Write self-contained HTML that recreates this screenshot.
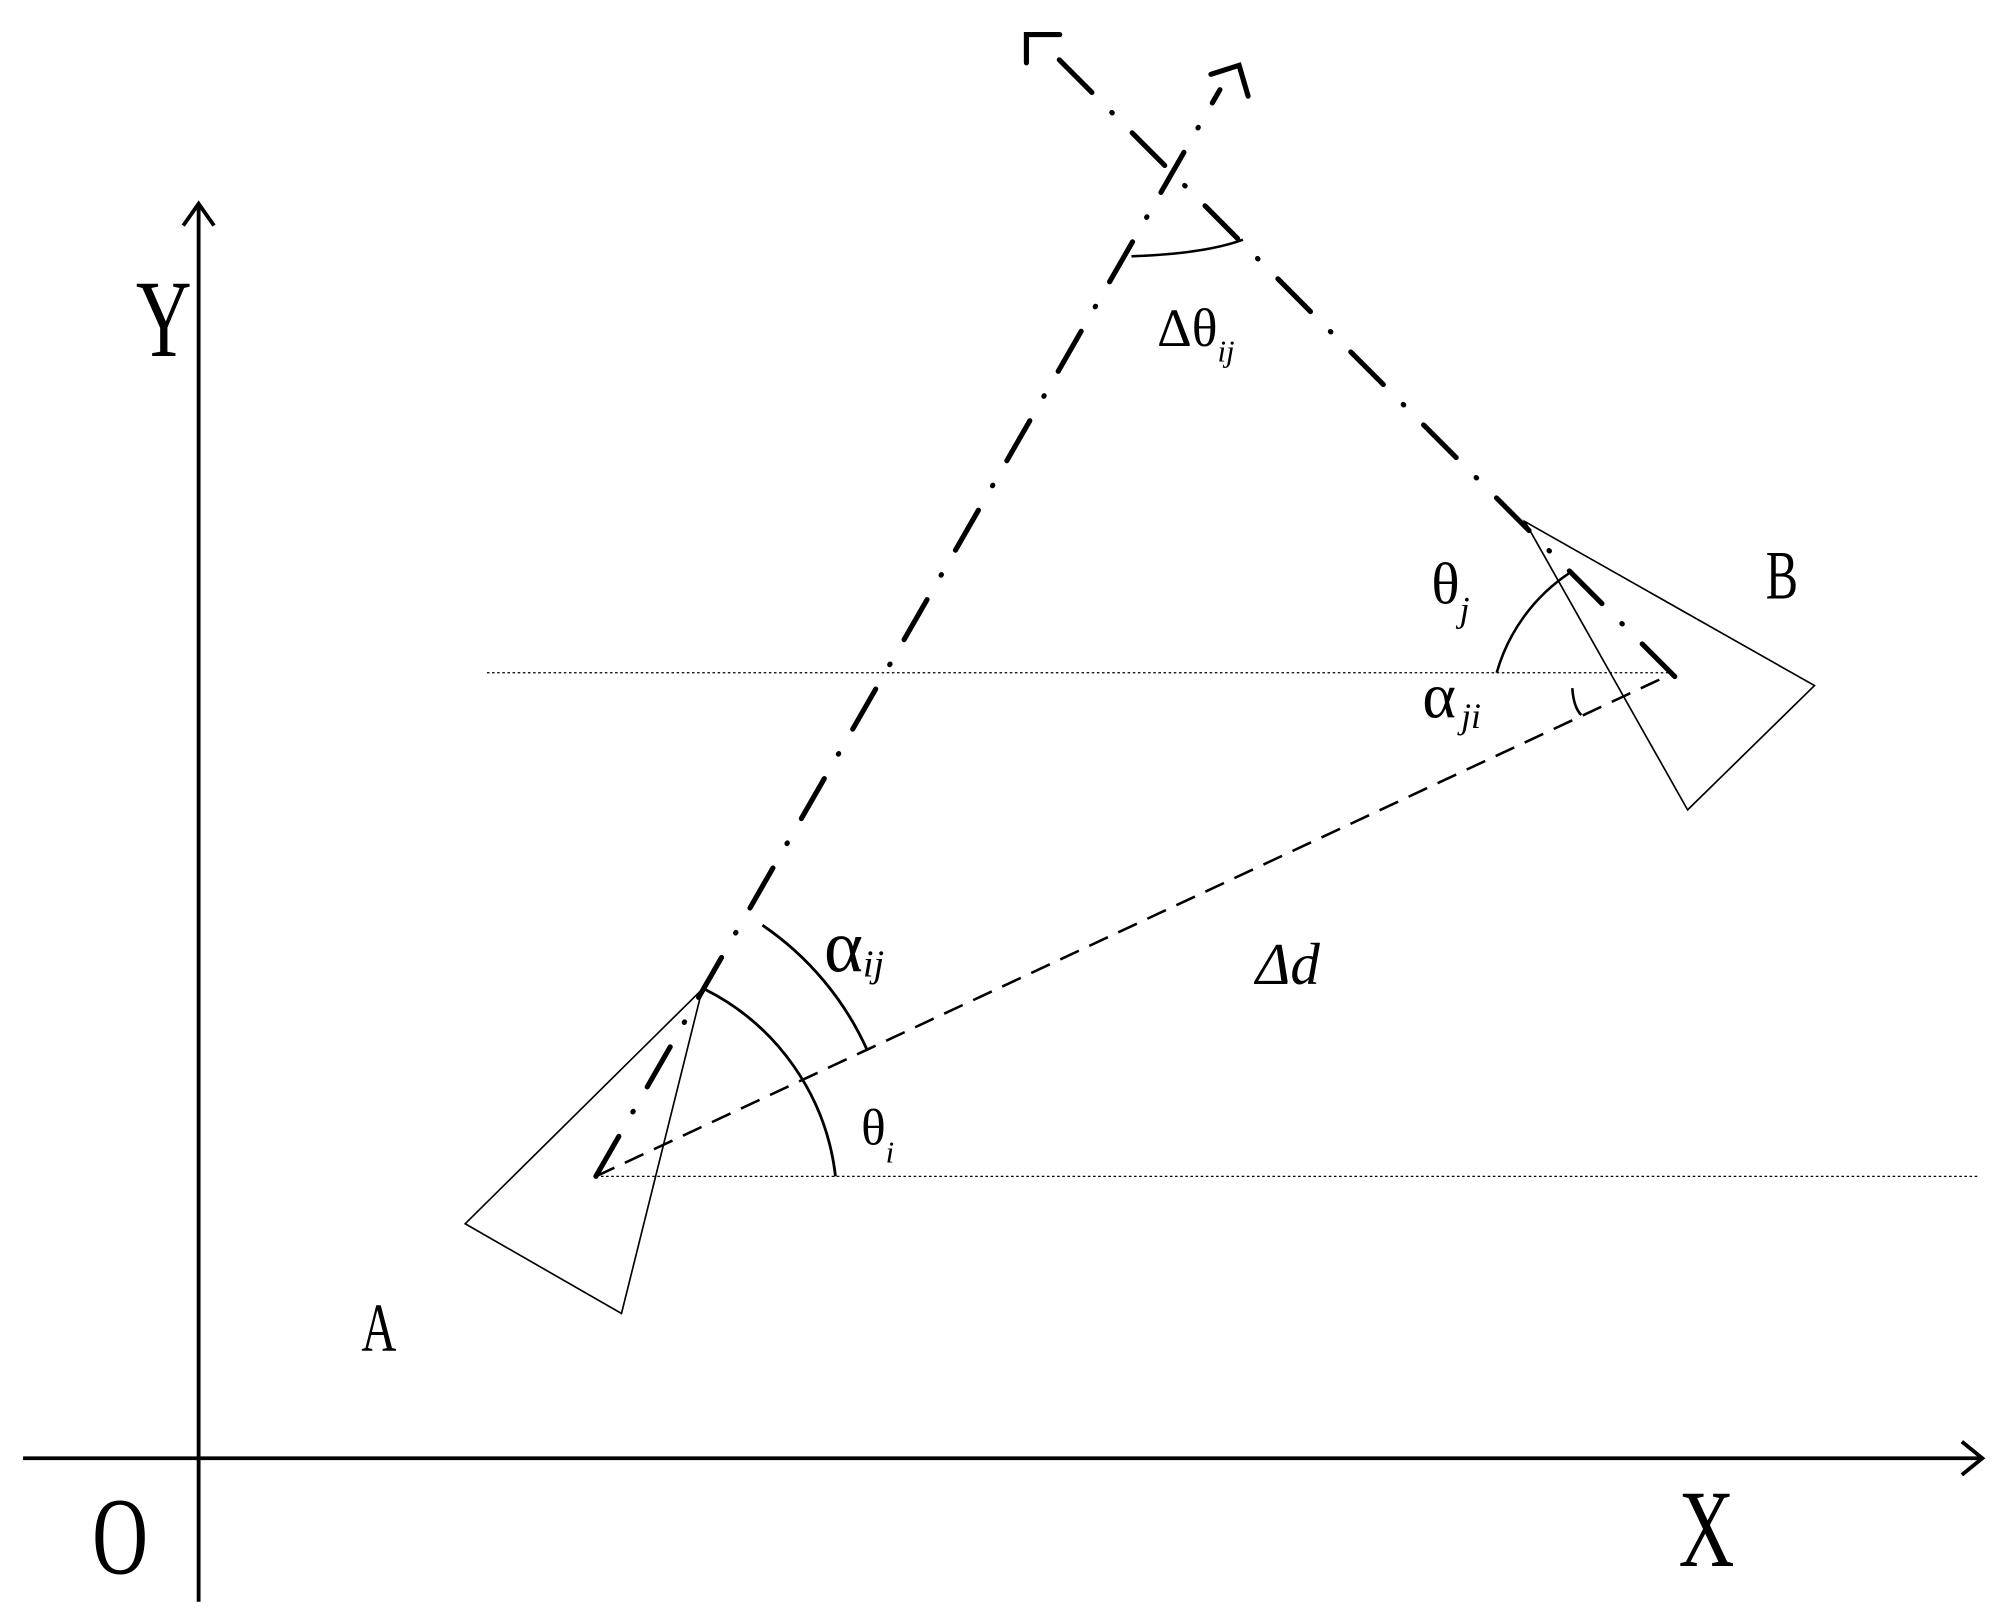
<!DOCTYPE html>
<html><head><meta charset="utf-8"><style>html,body{margin:0;padding:0;background:#fff}svg{display:block}</style></head>
<body>
<svg width="1999" height="1610" viewBox="0 0 1560 1256.4" xmlns="http://www.w3.org/2000/svg" font-family="Liberation Serif, serif">
<g stroke="#000" fill="none">
<line x1="155" y1="1250" x2="155" y2="159" stroke-width="3"/>
<polyline points="143,176 155,159 167,176" stroke-width="3"/>
<line x1="18" y1="1138" x2="1547" y2="1138" stroke-width="3"/>
<polyline points="1531,1125 1547,1138 1531,1151" stroke-width="3"/>
<line x1="380" y1="525" x2="1305" y2="525" stroke-width="1" stroke-dasharray="2,2"/>
<line x1="465" y1="918" x2="1545" y2="918" stroke-width="1" stroke-dasharray="2,2"/>
<polygon points="363,955 485,1025 548,772" stroke-width="1.3"/>
<polygon points="1190,407 1416,535 1317,632" stroke-width="1.3"/>
<line x1="465" y1="918" x2="1300" y2="528" stroke-width="2" stroke-dasharray="16,9"/>
<line x1="465" y1="918" x2="952" y2="70" stroke-width="4" stroke-linecap="round" stroke-dasharray="36,22,0.5,22"/>
<line x1="1307" y1="528" x2="825" y2="45" stroke-width="4" stroke-linecap="round" stroke-dasharray="36,22,0.5,22"/>
<polyline points="801,49 801,27 827,27" stroke-width="4" stroke-linecap="round"/>
<polyline points="945,58 967,51 974,75" stroke-width="4" stroke-linecap="round"/>
<path d="M652,918 A187,187 0 0 0 550,772" stroke-width="2.2"/>
<path d="M595,722 A234,234 0 0 1 677,820" stroke-width="2.2"/>
<path d="M883,200 Q940,198 970,187" stroke-width="2"/>
<path d="M1168,525 A139,139 0 0 1 1225,447" stroke-width="2"/>
<path d="M1227,537 Q1228,552 1234,558" stroke-width="2"/>
</g>
<g fill="#000">
<text x="106" y="278" font-size="86" transform="translate(106 278) scale(0.7 1) translate(-106 -278)">Y</text>
<text x="72" y="1228" font-size="86" transform="translate(72 1228) scale(0.7 1) translate(-72 -1228)">O</text>
<text x="1310" y="1222" font-size="86" transform="translate(1310 1222) scale(0.7 1) translate(-1310 -1222)">X</text>
<text x="282" y="1054" font-size="54" transform="translate(282 1054) scale(0.7 1) translate(-282 -1054)">A</text>
<text x="1378" y="467" font-size="54" transform="translate(1378 467) scale(0.7 1) translate(-1378 -467)">B</text>
<text x="643" y="758" font-size="58">α<tspan font-size="30" font-style="italic" dy="4">ij</tspan></text>
<text x="980" y="768" font-size="46" font-style="italic">Δd</text>
<text x="672" y="893" font-size="40">θ<tspan font-size="24" font-style="italic" dy="14">i</tspan></text>
<text x="903" y="270" font-size="42">Δθ<tspan font-size="24" font-style="italic" dy="12">ij</tspan></text>
<text x="1117" y="471" font-size="46">θ<tspan font-size="28" font-style="italic" dy="14">j</tspan></text>
<text x="1110" y="560" font-size="50">α<tspan font-size="28" font-style="italic" dy="8" dx="4">ji</tspan></text>
</g>
</svg>
</body></html>
